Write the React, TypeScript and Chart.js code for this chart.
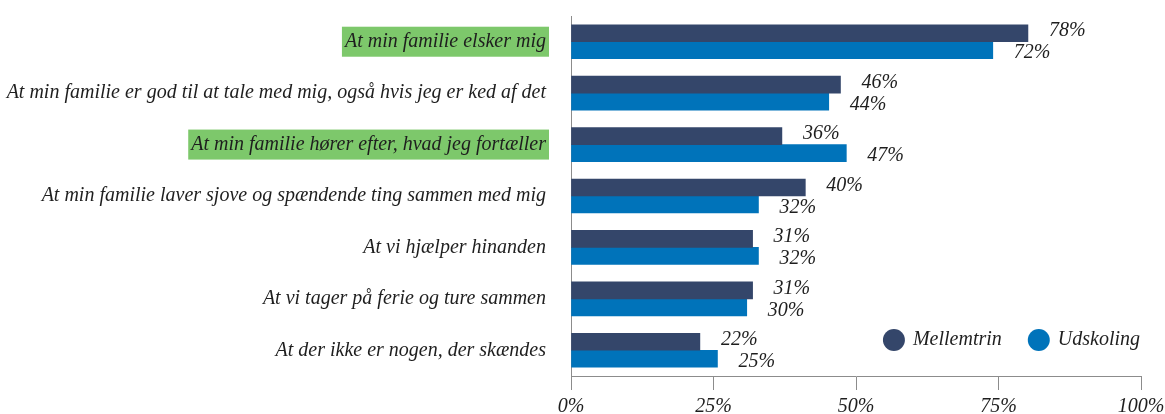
import React, { useEffect, useRef } from "react";
import { Chart, registerables } from "chart.js";

Chart.register(...registerables);

const categories = [
  "At min familie elsker mig",
  "At min familie er god til at tale med mig, også hvis jeg er ked af det",
  "At min familie hører efter, hvad jeg fortæller",
  "At min familie laver sjove og spændende ting sammen med mig",
  "At vi hjælper hinanden",
  "At vi tager på ferie og ture sammen",
  "At der ikke er nogen, der skændes",
];
const mellemtrin = [78, 46, 36, 40, 31, 31, 22];
const udskoling = [72, 44, 47, 32, 32, 30, 25];
const seriesNames = ["Mellemtrin", "Udskoling"];
const highlightedCategories = [0, 2];
const xTickLabels = ["0%", "25%", "50%", "75%", "100%"];
// In the reference, the axis tick labelled "100%" sits where the bars' scale reads ~97.3
const xAxisMax = 97.3;

const FONT = 'italic 20px "Liberation Serif"';
const COLORS = ["#34466A", "#0073BA"];
const GREEN = "#7DC86B";
const TEXT = "#1E1E1E";

export default function App() {
  const ref = useRef<HTMLCanvasElement | null>(null);

  useEffect(() => {
    document.body.style.margin = "0";
    const canvas = ref.current;
    if (!canvas) return;

    const highlightPlugin = {
      id: "highlight",
      beforeDraw(chart: any) {
        const ctx = chart.ctx;
        const y = chart.scales.y;
        ctx.save();
        ctx.font = FONT;
        highlightedCategories.forEach((i) => {
          const w = ctx.measureText(categories[i]).width;
          const right = y.right - 25;
          const cy = y.getPixelForTick(i);
          ctx.fillStyle = GREEN;
          ctx.fillRect(right - w - 3, cy - 15, w + 6, 30);
        });
        ctx.restore();
      },
    };

    const valueLabelPlugin = {
      id: "valueLabels",
      afterDatasetsDraw(chart: any) {
        const ctx = chart.ctx;
        ctx.save();
        ctx.font = FONT;
        ctx.fillStyle = TEXT;
        ctx.textAlign = "left";
        ctx.textBaseline = "middle";
        chart.data.datasets.forEach((ds: any, di: number) => {
          const meta = chart.getDatasetMeta(di);
          meta.data.forEach((bar: any, i: number) => {
            const p = bar.getProps(["x", "y"], true);
            ctx.fillText(ds.data[i] + "%", p.x + 21, p.y + (di === 0 ? -2 : 3));
          });
        });
        ctx.restore();
      },
    };

    const legendPlugin = {
      id: "customLegend",
      afterDraw(chart: any) {
        const ctx = chart.ctx;
        const area = chart.chartArea;
        ctx.save();
        ctx.font = FONT;
        const r = 11;
        const gapText = 8;
        const gapItem = 26;
        const widths = seriesNames.map((n) => ctx.measureText(n).width);
        let total = 0;
        widths.forEach((w, i) => {
          total += 2 * r + gapText + w + (i < widths.length - 1 ? gapItem : 0);
        });
        let x = area.right - total - 1;
        const cy = area.bottom - 36;
        seriesNames.forEach((n, i) => {
          ctx.fillStyle = COLORS[i];
          ctx.beginPath();
          ctx.arc(x + r, cy, r, 0, Math.PI * 2);
          ctx.fill();
          x += 2 * r + gapText;
          ctx.fillStyle = TEXT;
          ctx.textAlign = "left";
          ctx.textBaseline = "middle";
          ctx.fillText(n, x, cy);
          x += widths[i] + gapItem;
        });
        ctx.restore();
      },
    };

    const chart = new Chart(canvas, {
      type: "bar",
      data: {
        labels: categories,
        datasets: [
          {
            label: seriesNames[0],
            data: mellemtrin,
            backgroundColor: COLORS[0],
            barThickness: 17,
          },
          {
            label: seriesNames[1],
            data: udskoling,
            backgroundColor: COLORS[1],
            barThickness: 17,
          },
        ],
      },
      options: {
        indexAxis: "y",
        responsive: false,
        animation: false,
        layout: { padding: { top: 16, right: 24, bottom: 0, left: 0 } },
        plugins: {
          legend: { display: false },
          tooltip: { enabled: false },
        },
        scales: {
          x: {
            min: 0,
            max: xAxisMax,
            afterFit(scale: any) {
              scale.height = 38;
              scale.paddingLeft = 0;
              scale.paddingRight = 0;
            },
            afterBuildTicks(scale: any) {
              scale.ticks = xTickLabels.map((_, i) => ({
                value: (i * xAxisMax) / (xTickLabels.length - 1),
              }));
            },
            ticks: {
              autoSkip: false,
              maxRotation: 0,
              padding: 5,
              color: TEXT,
              font: { family: "Liberation Serif", style: "italic", size: 20 },
              callback: (_v: any, i: number) => xTickLabels[i],
            },
            grid: {
              drawOnChartArea: false,
              drawTicks: true,
              tickLength: 14,
              color: "#8C8C8C",
            },
            border: { display: true, color: "#8C8C8C", width: 1 },
          },
          y: {
            afterFit(scale: any) {
              scale.width = 571;
              scale.paddingTop = 0;
              scale.paddingBottom = 0;
            },
            ticks: {
              padding: 25,
              color: TEXT,
              font: { family: "Liberation Serif", style: "italic", size: 20 },
            },
            grid: { display: false, drawTicks: false },
            border: { display: true, color: "#8C8C8C", width: 1 },
          },
        },
      },
      plugins: [highlightPlugin, valueLabelPlugin, legendPlugin],
    });

    return () => chart.destroy();
  }, []);

  return (
    <div style={{ width: 1165, height: 414 }}>
      <canvas ref={ref} width={1165} height={414} />
    </div>
  );
}
